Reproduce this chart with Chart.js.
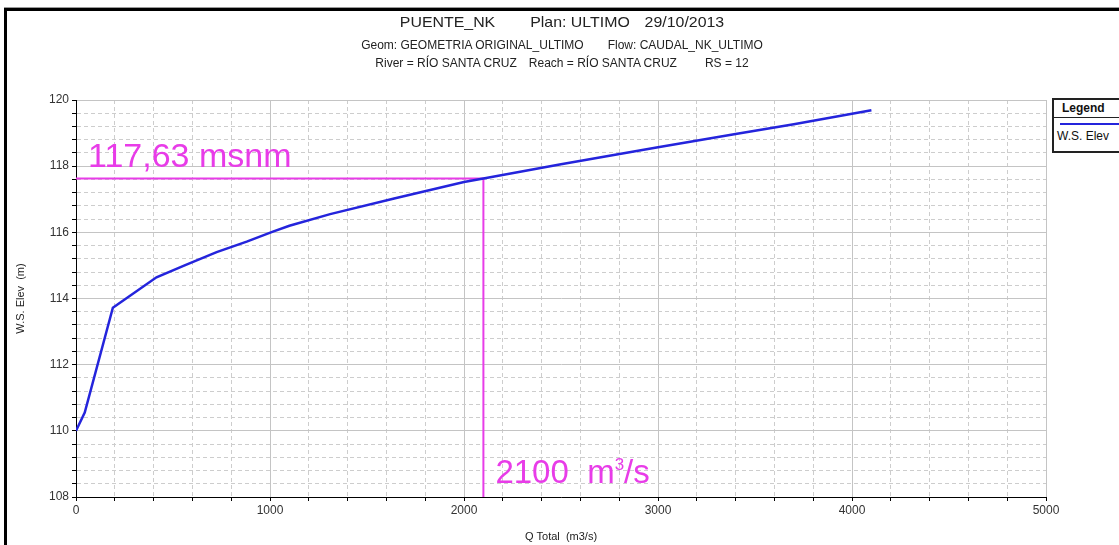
<!DOCTYPE html>
<html>
<head>
<meta charset="utf-8">
<script src="https://cdn.jsdelivr.net/npm/chart.js@4.4.0/dist/chart.umd.min.js"></script>
<style>
  html, body { margin: 0; padding: 0; background: #fff; overflow: hidden; }
  #wrap { position: relative; width: 1119px; height: 545px; overflow: hidden;
          font-family: "Liberation Sans", Arial, sans-serif; }
  #chart { position: absolute; left: 0; top: 0; }
  #shade { position: absolute; left: 4px; right: 0; top: 7px; height: 1px; background: #9a9a9a; }
  #frame { position: absolute; left: 4px; right: 0; top: 8px; bottom: 0;
           border-top: 3px solid #000; border-left: 3px solid #000; pointer-events: none; }
  .tline { position: absolute; left: 0; width: 1124px; text-align: center; color: #222;
           white-space: pre; }
  .tline span + span { display: inline-block; }
  #t1 { top: 13px; font-size: 15px; line-height: 18px; transform: scaleX(1.06); }
  #t2 { top: 38px; font-size: 12px; line-height: 14px; }
  #t3 { top: 56px; font-size: 12px; line-height: 14px; }
  #legend { position: absolute; left: 1052px; top: 98px; width: 90px; height: 51px;
            border: 2px solid #222; background: #fff; color: #111; }
  #legend .head { font-weight: bold; font-size: 12px; height: 17px; line-height: 17px;
                  padding-left: 8px; border-bottom: 1px solid #222; }
  #legend .swatch { height: 2px; background: #2424dc; margin: 5px 0 0 6px; }
  #legend .name { font-size: 12px; padding-left: 3px; margin-top: 4px; }
</style>
</head>
<body>
<div id="wrap">
  <canvas id="chart" width="1119" height="545"></canvas>
  <div id="shade"></div>
  <div id="frame"></div>
  <div class="tline" id="t1"></div>
  <div class="tline" id="t2"></div>
  <div class="tline" id="t3"></div>
  <div id="legend">
    <div class="head">Legend</div>
    <div class="swatch"></div>
    <div class="name">W.S. Elev</div>
  </div>
</div>
<script>
// ===== Data =====
const flows = [0, 45, 190, 415, 560, 725, 880, 1015, 1100, 1310, 1640, 2000, 2100, 2500, 3000, 3400, 3700, 4100];
const elevations = [110.0, 110.55, 113.72, 114.64, 115.0, 115.40, 115.72, 116.02, 116.2, 116.55, 117.02, 117.52, 117.63, 118.06, 118.57, 118.97, 119.27, 119.69];

const targetFlow = 2100;
const targetElev = 117.63;
const elevLabel = "117,63 msnm";
const flowLabel = "2100";

// title pieces and the gap (px) before each piece
const titleParts = [["PUENTE_NK", 0], ["Plan: ULTIMO", 33], ["29/10/2013", 14]];
const geomParts = [["Geom: GEOMETRIA ORIGINAL_ULTIMO", 0], ["Flow: CAUDAL_NK_ULTIMO", 24]];
const riverParts = [["River = RÍO SANTA CRUZ", 0], ["Reach = RÍO SANTA CRUZ", 12], ["RS = 12", 28]];

const xMin = 0, xMax = 5000, xMajor = 1000, xMinor = 200;
const yMin = 108, yMax = 120, yMajor = 2, yMinor = 0.4;

const curveColor = "#2424dc";
const markColor = "#e83ce8";
const majorGrid = "#c4c4c4";
const minorGrid = "#cdcdcd";

// ===== Titles =====
function fillLine(id, parts) {
  document.getElementById(id).innerHTML = parts
    .map(([t, gap]) => `<span style="margin-left:${gap}px">${t}</span>`)
    .join("");
}
fillLine("t1", titleParts);
fillLine("t2", geomParts);
fillLine("t3", riverParts);

// ===== Helpers =====
const isMajor = (v, step) => Math.abs(v / step - Math.round(v / step)) < 1e-6;

const gridColor = step => ctx => {
  if (!ctx.tick) return majorGrid;
  return isMajor(ctx.tick.value, step) ? majorGrid : minorGrid;
};
const gridDash = step => ctx => {
  if (!ctx.tick) return [];
  return isMajor(ctx.tick.value, step) ? [] : [4, 3];
};

// ===== Annotation text =====
const annotationText = {
  id: "annotationText",
  afterDatasetsDraw(chart) {
    const { ctx, scales: { x, y } } = chart;
    ctx.save();
    ctx.fillStyle = markColor;
    ctx.textBaseline = "alphabetic";
    ctx.font = '34px "Liberation Sans", Arial, sans-serif';
    ctx.fillText(elevLabel, x.getPixelForValue(xMin) + 12, y.getPixelForValue(targetElev) - 11);

    ctx.font = '33px "Liberation Sans", Arial, sans-serif';
    let px = x.getPixelForValue(targetFlow) + 12;
    const py = y.getPixelForValue(yMin) - 14;
    ctx.fillText(flowLabel + "  m", px, py);
    px += ctx.measureText(flowLabel + "  m").width;
    ctx.font = '17px "Liberation Sans", Arial, sans-serif';
    ctx.fillText("3", px, py - 13);
    px += ctx.measureText("3").width;
    ctx.font = '33px "Liberation Sans", Arial, sans-serif';
    ctx.fillText("/s", px, py);
    ctx.restore();
  }
};

Chart.defaults.font.family = '"Liberation Sans", Arial, sans-serif';
Chart.defaults.color = "#333";

new Chart(document.getElementById("chart"), {
  type: "line",
  data: {
    datasets: [
      {
        label: "W.S. Elev",
        data: flows.map((q, i) => ({ x: q, y: elevations[i] })),
        borderColor: curveColor,
        borderWidth: 2.5,
        pointRadius: 0,
        tension: 0
      },
      {
        label: "target",
        data: [
          { x: xMin, y: targetElev },
          { x: targetFlow, y: targetElev },
          { x: targetFlow, y: yMin }
        ],
        borderColor: markColor,
        borderWidth: 2,
        pointRadius: 0,
        tension: 0
      }
    ]
  },
  options: {
    responsive: false,
    animation: false,
    layout: { padding: { left: 10, right: 73, top: 100, bottom: 0 } },
    plugins: {
      legend: { display: false },
      tooltip: { enabled: false }
    },
    scales: {
      x: {
        type: "linear",
        min: xMin,
        max: xMax,
        afterFit: s => { s.height = 48; },
        ticks: {
          stepSize: xMinor,
          autoSkip: false,
          maxRotation: 0,
          padding: 2,
          font: { size: 12 },
          color: "#333",
          callback: v => isMajor(v, xMajor) ? String(v) : ""
        },
        grid: { color: gridColor(xMajor), tickColor: "#000", tickLength: 4, lineWidth: 1 },
        border: { color: "#000", width: 1, dash: gridDash(xMajor) },
        title: {
          display: true,
          text: "Q Total  (m3/s)",
          color: "#222",
          font: { size: 11 },
          padding: { top: 4, bottom: 1 }
        }
      },
      y: {
        type: "linear",
        min: yMin,
        max: yMax,
        afterFit: s => { s.width = 66; },
        ticks: {
          stepSize: yMinor,
          autoSkip: false,
          padding: 3,
          font: { size: 12 },
          color: "#333",
          callback: v => isMajor(v, yMajor) ? String(Math.round(v)) : ""
        },
        grid: { color: gridColor(yMajor), tickColor: "#000", tickLength: 4, lineWidth: 1 },
        border: { color: "#000", width: 1, dash: gridDash(yMajor) },
        title: {
          display: true,
          text: "W.S. Elev  (m)",
          color: "#222",
          font: { size: 11 },
          padding: { top: 4, bottom: 4 }
        }
      }
    }
  },
  plugins: [annotationText]
});
</script>
</body>
</html>
